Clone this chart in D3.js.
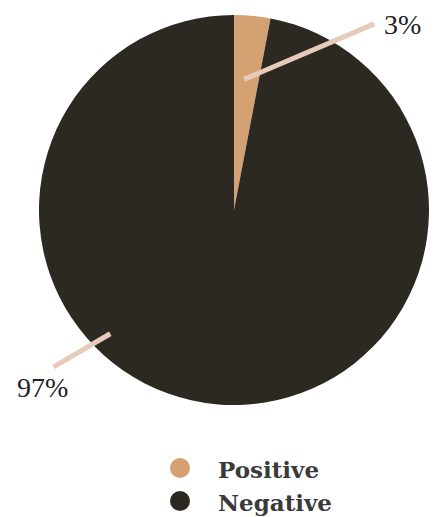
<!DOCTYPE html>
<html>
<head>
<meta charset="utf-8">
<script src="https://cdn.jsdelivr.net/npm/d3@7"></script>
<style>
  body { margin: 0; background: #fff; }
  text { font-family: "Liberation Serif", "DejaVu Serif", serif; }
</style>
</head>
<body>
<div id="pie"></div>
<script>
// data
var categories = ["Positive", "Negative"];
var values = [3, 97];
var colors = ["#d3a172", "#2c2922"];

var width = 433, height = 517;
var cx = 234, cy = 210, radius = 195;

var svg = d3.select("#pie")
  .append("svg")
    .attr("width", width)
    .attr("height", height);

var g = svg.append("g")
    .attr("transform", "translate(" + cx + "," + cy + ")");

var pie = d3.pie().sort(null).value(function(d) { return d; });
var arcs = pie(values);

var arc = d3.arc().innerRadius(0).outerRadius(radius);

g.selectAll("path.slice")
  .data(arcs)
  .enter().append("path")
    .attr("class", "slice")
    .attr("d", arc)
    .attr("fill", function(d, i) { return colors[i]; });

// leader lines: polar [angle deg, radius] for start/end, and label anchor
var leaders = [
  { a0: 4.4, r0: 131, a1: 37, r1: 233, tx: 384, ty: 34 },
  { a0: 225, r0: 175, a1: 229, r1: 239, tx: 17, ty: 397 }
];
function polar(a, r) {
  var t = a * Math.PI / 180;
  return [r * Math.sin(t), -r * Math.cos(t)];
}

leaders.forEach(function(l, i) {
  var p0 = polar(l.a0, l.r0), p1 = polar(l.a1, l.r1);
  g.append("line")
    .attr("x1", p0[0]).attr("y1", p0[1])
    .attr("x2", p1[0]).attr("y2", p1[1])
    .attr("stroke", "#e6cbbb")
    .attr("stroke-width", 5);
  svg.append("text")
    .attr("x", l.tx).attr("y", l.ty)
    .style("font-size", "28px")
    .style("fill", "#222")
    .text(values[i] + "%");
});

// legend
var legend = svg.selectAll("g.legend")
  .data(categories)
  .enter().append("g")
    .attr("class", "legend")
    .attr("transform", function(d, i) { return "translate(180," + (468 + i * 33) + ")"; });

legend.append("circle")
    .attr("r", 10)
    .attr("fill", function(d, i) { return colors[i]; });

legend.append("text")
    .attr("x", 38)
    .attr("y", 10)
    .style("font-family", "'DejaVu Serif', serif")
    .style("font-size", "23px")
    .style("font-weight", "bold")
    .style("fill", "#3a3a3a")
    .text(function(d) { return d; });
</script>
</body>
</html>
